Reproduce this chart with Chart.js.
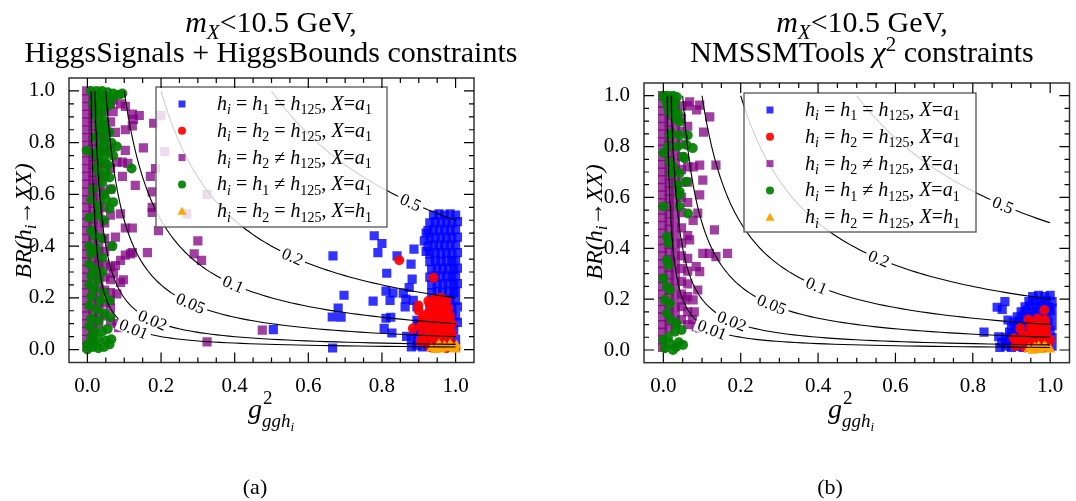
<!DOCTYPE html>
<html>
<head>
<meta charset="utf-8">
<script src="https://cdn.jsdelivr.net/npm/chart.js@4.4.1/dist/chart.umd.min.js"></script>
<style>
  body { margin: 0; background: #fff; width: 1076px; height: 501px; overflow: hidden; position: relative; }
  .box { position: absolute; top: 0; height: 501px; }
</style>
</head>
<body>
<div class="box" style="left:0;width:540px"><canvas id="chartA"></canvas></div>
<div class="box" style="left:540px;width:536px"><canvas id="chartB"></canvas></div>
<script>
// contour levels of BR * g^2 and where their labels sit (x value)
const levels = [0.5, 0.2, 0.1, 0.05, 0.02, 0.01];
const levelLabels = ['0.5', '0.2', '0.1', '0.05', '0.02', '0.01'];
const levelLabelX = [0.878, 0.557, 0.396, 0.28, 0.177, 0.126];

const tickValues = [0, 0.2, 0.4, 0.6, 0.8, 1.0];
const tickLabels = ['0.0', '0.2', '0.4', '0.6', '0.8', '1.0'];

// ---- panel (a): HiggsSignals + HiggsBounds ----
const blueA = [
  [0.505,0.077],[0.666,0.006],[0.665,0.126],[0.689,0.125],[0.681,0.16],[0.697,0.21],[0.667,0.362],
  [0.776,0.187],[0.779,0.44],[0.789,0.375],[0.80,0.41],[0.811,0.226],[0.83,0.219],[0.822,0.19],[0.813,0.295],
  [0.811,0.121],[0.824,0.125],[0.806,0.082],[0.827,0.064],[0.841,0.362],[0.887,0.388],[0.879,0.33],
  [0.882,0.272],[0.874,0.24],[0.858,0.218],[0.865,0.195],[0.885,0.19],[0.895,0.165],[0.863,0.165],
  [0.895,0.113],[0.867,0.051],[0.92,0.45],[0.915,0.42],[0.92,0.38],
  [0.94,0.52],[0.955,0.525],[0.97,0.52],[0.985,0.525],[1.0,0.52],
  [0.93,0.49],[0.945,0.495],[0.96,0.49],[0.975,0.495],[0.99,0.49],[1.005,0.495],
  [0.925,0.46],[0.94,0.465],[0.955,0.46],[0.97,0.465],[0.985,0.46],[1.0,0.465],
  [0.93,0.43],[0.945,0.435],[0.96,0.43],[0.975,0.435],[0.99,0.43],[1.005,0.435],
  [0.925,0.40],[0.94,0.405],[0.955,0.40],[0.97,0.405],[0.985,0.40],[1.0,0.405],
  [0.93,0.37],[0.945,0.375],[0.96,0.37],[0.975,0.375],[0.99,0.37],[1.005,0.375],
  [0.93,0.34],[0.945,0.345],[0.96,0.34],[0.975,0.345],[0.99,0.34],[1.0,0.345],
  [0.935,0.31],[0.95,0.315],[0.965,0.31],[0.98,0.315],[0.995,0.31],[1.005,0.315],
  [0.93,0.28],[0.945,0.285],[0.96,0.28],[0.975,0.285],[0.99,0.28],[1.0,0.285],
  [0.935,0.25],[0.95,0.255],[0.965,0.25],[0.98,0.255],[0.995,0.25],[1.005,0.255],
  [0.935,0.22],[0.95,0.225],[0.965,0.22],[0.98,0.225],[0.995,0.22],[1.0,0.225],
  [0.94,0.19],[0.955,0.195],[0.97,0.19],[0.985,0.195],[1.0,0.19],
  [0.93,0.16],[0.945,0.165],[0.96,0.16],[0.975,0.165],[0.99,0.16],[1.005,0.165],
  [0.915,0.13],[0.93,0.135],[0.945,0.13],[0.96,0.135],[0.975,0.13],[0.99,0.135],[1.0,0.13],
  [0.90,0.10],[0.915,0.105],[0.93,0.10],[0.945,0.105],[0.96,0.10],[0.975,0.105],[0.99,0.10],[1.005,0.105],
  [0.89,0.07],[0.905,0.075],[0.92,0.07],[0.935,0.075],[0.95,0.07],[0.965,0.075],[0.98,0.07],[0.995,0.075],
  [0.88,0.04],[0.895,0.045],[0.91,0.04],[0.925,0.045],[0.94,0.04],[0.955,0.045],[0.97,0.04],[0.985,0.045],[1.0,0.04],
  [0.88,0.01],[0.895,0.015],[0.91,0.01],[0.925,0.015],[0.94,0.01],[0.955,0.015],[0.97,0.01],[0.985,0.015],[1.0,0.01]
];
const redA = [
  [0.847,0.345],[0.94,0.278],[0.899,0.17],[0.926,0.188],[0.92,0.129],[0.884,0.081],
  [0.96,0.2],[0.945,0.195],[0.975,0.19],[0.93,0.175],[0.95,0.17],[0.965,0.165],[0.98,0.16],
  [0.94,0.15],[0.955,0.145],[0.97,0.14],[0.925,0.14],[0.985,0.13],[0.91,0.12],[0.935,0.125],
  [0.95,0.12],[0.965,0.115],[0.98,0.11],[0.92,0.105],[0.94,0.1],[0.955,0.095],[0.97,0.09],
  [0.905,0.09],[0.985,0.085],[0.925,0.08],[0.945,0.075],[0.96,0.07],[0.975,0.065],[0.91,0.06],
  [0.93,0.055],[0.95,0.05],[0.965,0.045],[0.98,0.04],[0.92,0.035],[0.94,0.03],[0.955,0.025],
  [0.97,0.02],[0.99,0.02],[0.905,0.03],[0.93,0.01],[0.945,0.005],[0.96,0.01],[0.975,0.005],
  [0.99,0.06],[0.99,0.1],[0.9,0.15]
];
const purpleA = [
  [-0.002,0.01],[-0.002,0.04],[-0.002,0.07],[-0.002,0.10],[-0.002,0.13],[-0.002,0.16],[-0.002,0.19],
  [-0.002,0.22],[-0.002,0.25],[-0.002,0.28],[-0.002,0.31],[-0.002,0.34],[-0.002,0.37],[-0.002,0.40],
  [-0.002,0.43],[-0.002,0.46],[-0.002,0.49],[-0.002,0.52],[-0.002,0.55],[-0.002,0.58],[-0.002,0.61],
  [-0.002,0.64],[-0.002,0.67],[-0.002,0.70],[-0.002,0.73],[-0.002,0.76],[-0.002,0.79],[-0.002,0.82],
  [-0.002,0.85],[-0.002,0.88],[-0.002,0.91],[-0.002,0.94],[-0.002,0.97],[-0.002,1.0],
  [0.015,0.025],[0.015,0.055],[0.015,0.085],[0.015,0.115],[0.015,0.145],[0.015,0.175],[0.015,0.205],
  [0.015,0.235],[0.015,0.265],[0.015,0.295],[0.015,0.325],[0.015,0.355],[0.015,0.385],[0.015,0.415],
  [0.015,0.445],[0.015,0.475],[0.015,0.505],[0.015,0.535],[0.015,0.565],[0.015,0.595],[0.015,0.625],
  [0.015,0.655],[0.015,0.685],[0.015,0.715],[0.015,0.745],[0.015,0.775],[0.015,0.805],[0.015,0.835],
  [0.015,0.865],[0.015,0.895],[0.015,0.925],[0.015,0.955],[0.015,0.985],
  [0.031,0.10],[0.031,0.135],[0.031,0.17],[0.031,0.205],[0.031,0.24],[0.031,0.275],[0.031,0.31],
  [0.031,0.345],[0.031,0.38],[0.031,0.415],[0.031,0.45],[0.031,0.485],[0.031,0.52],[0.031,0.555],
  [0.031,0.59],[0.031,0.625],[0.031,0.66],[0.031,0.695],[0.031,0.73],[0.031,0.765],[0.031,0.80],
  [0.031,0.835],[0.031,0.87],[0.031,0.905],[0.031,0.94],[0.031,0.975],
  [0.047,0.13],[0.047,0.18],[0.047,0.23],[0.047,0.28],[0.047,0.33],[0.047,0.38],[0.047,0.43],
  [0.047,0.49],[0.047,0.55],[0.047,0.61],[0.047,0.67],[0.047,0.72],[0.047,0.77],[0.047,0.82],
  [0.047,0.87],[0.047,0.92],[0.047,0.97],
  [0.063,0.11],[0.063,0.16],[0.063,0.22],[0.063,0.27],[0.063,0.32],[0.063,0.40],[0.063,0.52],
  [0.063,0.62],[0.063,0.70],[0.063,0.78],[0.063,0.88],[0.063,0.95],
  [0.085,0.085],[0.08,0.10],[0.062,0.19],[0.08,0.215],[0.09,0.26],[0.071,0.295],[0.098,0.27],
  [0.076,0.325],[0.09,0.345],[0.103,0.365],[0.122,0.375],[0.163,0.375],[0.117,0.37],[0.076,0.435],
  [0.103,0.47],[0.122,0.47],[0.193,0.46],[0.09,0.525],[0.176,0.53],[0.176,0.55],[0.176,0.61],
  [0.13,0.635],[0.095,0.67],[0.171,0.67],[0.185,0.70],[0.11,0.72],[0.08,0.725],[0.095,0.725],
  [0.152,0.78],[0.103,0.77],[0.076,0.84],[0.103,0.85],[0.122,0.865],[0.18,0.875],[0.125,0.89],
  [0.141,0.905],[0.122,0.91],[0.07,0.92],[0.103,0.94],[0.09,0.95],[0.07,0.965],[0.2,0.905],
  [0.21,0.765],[0.325,0.6],[0.27,0.525],[0.30,0.42],[0.31,0.345],[0.29,0.37],[0.325,0.03],[0.475,0.075]
];
const greenA = [
  [0.01,1.0],[0.025,1.0],[0.04,1.0],[0.055,0.995],[0.07,0.99],[0.085,0.985],[0.095,0.99],
  [0.02,0.98],[0.035,0.975],[0.05,0.975],[0.065,0.97],[0.015,0.955],[0.03,0.95],[0.045,0.95],
  [0.06,0.945],[0.02,0.93],[0.04,0.92],[0.025,0.90],[0.045,0.885],[0.03,0.865],[0.05,0.855],
  [0.06,0.84],[0.035,0.84],[0.02,0.82],[0.045,0.81],[0.065,0.80],[0.04,0.79],[0.08,0.785],
  [0.03,0.77],[0.055,0.765],[-0.002,0.77],[0.02,0.755],[0.045,0.745],[0.07,0.75],[0.035,0.725],
  [0.055,0.715],[0.025,0.70],[0.05,0.69],[0.12,0.70],[0.035,0.675],[0.06,0.665],[0.04,0.645],
  [0.065,0.62],[0.015,0.62],[0.045,0.60],[0.01,0.58],[0.05,0.58],[0.07,0.57],[0.03,0.555],
  [0.06,0.545],[0.005,0.51],[0.025,0.52],[0.045,0.50],[0.01,0.46],[0.02,0.44],[0.04,0.43],
  [0.068,0.40],[0.005,0.40],[0.025,0.39],[0.01,0.37],[0.04,0.355],[0.005,0.33],[0.02,0.31],
  [0.04,0.30],[0.01,0.285],[0.03,0.27],[0.005,0.25],[0.02,0.235],[0.045,0.22],[0.01,0.205],
  [0.035,0.19],[0.06,0.19],[0.062,0.125],[0.005,0.17],[0.025,0.155],[0.045,0.14],[0.01,0.12],
  [0.03,0.11],[0.005,0.09],[0.02,0.07],[0.04,0.07],[0.055,0.08],[0.01,0.05],[0.03,0.04],
  [0.05,0.035],[0.065,0.04],[0.0,0.02],[0.015,0.01],[0.03,0.005],[0.045,0.01],[0.06,0.02],
  [0.0,0.0],[0.02,0.025]
];
const orangeA = [
  [0.935,0.005],[0.95,0.01],[0.96,0.0],[0.97,0.015],[0.98,0.005],[0.99,0.01],[1.0,0.0],
  [0.955,0.02],[0.985,0.02],[0.945,-0.002],[1.003,0.015]
];

// ---- panel (b): NMSSMTools chi^2 ----
const blueB = [
  [0.863,0.168],[0.883,0.19],[0.876,0.16],[0.829,0.07],[0.867,0.052],[0.891,0.118],
  [0.955,0.21],[0.97,0.215],[0.985,0.21],[1.0,0.215],
  [0.945,0.19],[0.96,0.195],[0.975,0.19],[0.99,0.195],[1.005,0.19],
  [0.935,0.17],[0.95,0.175],[0.965,0.17],[0.98,0.175],[0.995,0.17],[1.005,0.165],
  [0.925,0.15],[0.94,0.155],[0.955,0.15],[0.97,0.155],[0.985,0.15],[1.0,0.155],
  [0.915,0.13],[0.93,0.135],[0.945,0.13],[0.96,0.135],[0.975,0.13],[0.99,0.135],[1.005,0.13],
  [0.905,0.11],[0.92,0.115],[0.935,0.11],[0.95,0.115],[0.965,0.11],[0.98,0.115],[0.995,0.11],
  [0.90,0.09],[0.915,0.095],[0.93,0.09],[0.945,0.095],[0.96,0.09],[0.975,0.095],[0.99,0.09],[1.005,0.095],
  [0.895,0.07],[0.91,0.075],[0.925,0.07],[0.94,0.075],[0.955,0.07],[0.97,0.075],[0.985,0.07],[1.0,0.075],
  [0.885,0.05],[0.90,0.055],[0.915,0.05],[0.93,0.055],[0.945,0.05],[0.96,0.055],[0.975,0.05],[0.99,0.055],[1.005,0.05],
  [0.875,0.03],[0.89,0.035],[0.905,0.03],[0.92,0.035],[0.935,0.03],[0.95,0.035],[0.965,0.03],[0.98,0.035],[0.995,0.03],
  [0.87,0.01],[0.885,0.015],[0.90,0.01],[0.915,0.015],[0.93,0.01],[0.945,0.015],[0.96,0.01],[0.975,0.015],[0.99,0.01],[1.005,0.015]
];
const redB = [
  [0.985,0.157],[0.944,0.12],[0.968,0.124],[0.987,0.118],[0.923,0.085],[0.957,0.079],[0.906,0.046],
  [0.918,0.039],[0.93,0.06],[0.95,0.065],[0.97,0.07],[0.99,0.065],[0.94,0.045],[0.96,0.05],
  [0.98,0.045],[0.925,0.025],[0.945,0.03],[0.965,0.03],[0.985,0.025],[1.0,0.04],[0.935,0.01],
  [0.955,0.012],[0.975,0.01],[0.995,0.012],[0.91,0.015],[0.96,0.1],[0.98,0.095],[0.95,0.09],[0.99,0.09]
];
const purpleB = [
  [-0.002,0.01],[-0.002,0.04],[-0.002,0.07],[-0.002,0.10],[-0.002,0.13],[-0.002,0.16],[-0.002,0.19],
  [-0.002,0.22],[-0.002,0.25],[-0.002,0.28],[-0.002,0.31],[-0.002,0.34],[-0.002,0.37],[-0.002,0.40],
  [-0.002,0.43],[-0.002,0.46],[-0.002,0.49],[-0.002,0.52],[-0.002,0.55],[-0.002,0.58],[-0.002,0.61],
  [-0.002,0.64],[-0.002,0.67],[-0.002,0.70],[-0.002,0.73],[-0.002,0.76],[-0.002,0.79],[-0.002,0.82],
  [-0.002,0.85],[-0.002,0.88],[-0.002,0.91],[-0.002,0.94],[-0.002,0.97],[-0.002,1.0],
  [0.015,0.085],[0.015,0.115],[0.015,0.145],[0.015,0.175],[0.015,0.205],
  [0.015,0.235],[0.015,0.265],[0.015,0.295],[0.015,0.325],[0.015,0.355],[0.015,0.385],[0.015,0.415],
  [0.015,0.445],[0.015,0.475],[0.015,0.505],[0.015,0.535],[0.015,0.565],[0.015,0.595],[0.015,0.625],
  [0.015,0.655],[0.015,0.685],[0.015,0.715],[0.015,0.745],[0.015,0.775],[0.015,0.805],[0.015,0.835],
  [0.015,0.865],[0.015,0.895],[0.015,0.925],[0.015,0.955],[0.015,0.985],
  [0.031,0.10],[0.031,0.135],[0.031,0.17],[0.031,0.205],[0.031,0.24],[0.031,0.275],[0.031,0.31],
  [0.031,0.345],[0.031,0.38],[0.031,0.415],[0.031,0.45],[0.031,0.485],[0.031,0.52],[0.031,0.555],
  [0.031,0.59],[0.031,0.625],[0.031,0.66],[0.031,0.695],[0.031,0.73],[0.031,0.765],[0.031,0.80],
  [0.031,0.835],[0.031,0.87],[0.031,0.905],[0.031,0.94],[0.031,0.975],
  [0.047,0.12],[0.047,0.17],[0.047,0.22],[0.047,0.27],[0.047,0.32],[0.047,0.37],[0.047,0.42],
  [0.047,0.48],[0.047,0.54],[0.047,0.60],[0.047,0.66],[0.047,0.71],[0.047,0.76],[0.047,0.81],
  [0.047,0.86],[0.047,0.91],[0.047,0.96],
  [0.063,0.10],[0.063,0.15],[0.063,0.21],[0.063,0.26],[0.063,0.31],[0.063,0.36],[0.063,0.45],
  [0.063,0.58],[0.063,0.66],[0.063,0.72],[0.063,0.88],[0.063,0.96],
  [0.068,0.976],[0.094,0.963],[0.086,0.944],[0.12,0.917],[0.104,0.857],[0.136,0.727],[0.094,0.727],
  [0.078,0.72],[0.102,0.668],[0.094,0.61],[0.089,0.538],[0.077,0.51],[0.068,0.433],[0.132,0.472],
  [0.119,0.38],[0.102,0.38],[0.166,0.38],[0.136,0.367],[0.085,0.328],[0.094,0.308],[0.089,0.236],
  [0.077,0.197],[0.055,0.197],[0.08,0.15],[0.085,0.092],[0.094,0.087],[0.075,0.12]
];
const greenB = [
  [0.0,1.0],[0.012,1.0],[0.025,1.0],[0.035,0.995],[0.005,0.985],[0.02,0.98],[0.03,0.97],
  [0.01,0.96],[0.025,0.955],[0.038,0.93],[0.015,0.935],[0.03,0.91],[0.042,0.898],
  [0.017,0.845],[0.042,0.845],[0.063,0.845],[0.021,0.852],[0.012,0.80],[0.037,0.80],[0.06,0.806],
  [0.076,0.794],[0.0,0.775],[0.051,0.76],[0.055,0.754],[0.017,0.74],[0.025,0.72],[0.021,0.695],
  [0.042,0.695],[0.037,0.65],[0.06,0.662],[0.042,0.622],[0.042,0.61],[0.0,0.564],[0.042,0.564],
  [0.064,0.537],[0.009,0.446],[0.013,0.42],[0.009,0.354],[0.013,0.334],[0.0,0.282],[0.009,0.249],
  [0.017,0.236],[0.004,0.197],[0.017,0.183],[0.009,0.144],[0.021,0.118],[0.034,0.105],[0.03,0.072],
  [0.047,0.079],[0.0,0.04],[0.017,0.026],[0.034,0.013],[0.051,0.02],[0.004,0.007],[0.025,0.0],
  [0.012,0.05],[0.04,0.03]
];
const orangeB = [
  [0.945,0.005],[0.96,0.01],[0.975,0.0],[0.99,0.008],[1.0,0.002],[0.955,-0.003],[0.985,0.015],[0.97,0.015]
];

const SERIF = '"Liberation Serif", "Times New Roman", serif';
const BLUE = 'rgba(0,0,255,0.8)';
const RED = 'rgba(255,0,0,0.92)';
const PURPLE = 'rgba(128,0,128,0.75)';
const GREEN = 'rgba(0,128,0,0.92)';
const ORANGE = '#ffa500';

// rich text: parts are [text, kind], kind has 'i' italic, 'b' subscript, 'p' superscript
function partFont(kind, size) {
  const small = kind.includes('b') || kind.includes('p');
  return (kind.includes('i') ? 'italic ' : '') + Math.round(small ? size * 0.7 : size) + 'px ' + SERIF;
}
function richWidth(ctx, parts, size) {
  let w = 0;
  for (const [t, k] of parts) { ctx.font = partFont(k, size); w += ctx.measureText(t).width; }
  return w;
}
function drawRich(ctx, parts, x, y, size, align) {
  const w = richWidth(ctx, parts, size);
  let cx = align === 'center' ? x - w / 2 : x;
  ctx.textAlign = 'left';
  ctx.textBaseline = 'alphabetic';
  ctx.fillStyle = '#000';
  for (const [t, k] of parts) {
    ctx.font = partFont(k, size);
    const dy = k.includes('b') ? size * 0.22 : (k.includes('p') ? -size * 0.38 : 0);
    ctx.fillText(t, cx, y + dy);
    cx += ctx.measureText(t).width;
  }
}

function legendParts(a, rel, x) {
  return [['h','i'],['i','ib'],[' = ',''],['h','i'],[a,'b'],[' ' + rel + ' ',''],['h','i'],['125','b'],
          [', ',''],['X','i'],['=',''],[x[0],'i'],[x[1],'b']];
}
const legendItems = [
  { parts: legendParts('1', '=', ['a','1']), color: BLUE, style: 'rect' },
  { parts: legendParts('2', '=', ['a','1']), color: RED, style: 'circle' },
  { parts: legendParts('2', '\u2260', ['a','1']), color: PURPLE, style: 'rect' },
  { parts: legendParts('1', '\u2260', ['a','1']), color: GREEN, style: 'circle' },
  { parts: legendParts('2', '=', ['h','1']), color: ORANGE, style: 'triangle' }
];

function contour(c) {
  const pts = [];
  for (let k = 0; k <= 90; k++) {
    const x = c * Math.pow(1 / c, k / 90);
    pts.push({ x: x, y: c / x });
  }
  return pts;
}

function drawMarker(ctx, style, color, x, y) {
  ctx.fillStyle = color;
  ctx.beginPath();
  if (style === 'rect') ctx.rect(x - 3.5, y - 3.5, 7, 7);
  else if (style === 'circle') ctx.arc(x, y, 4, 0, Math.PI * 2);
  else { ctx.moveTo(x, y - 4.5); ctx.lineTo(x + 4.5, y + 3.5); ctx.lineTo(x - 4.5, y + 3.5); ctx.closePath(); }
  ctx.fill();
}

function buildChart(id, g, s) {
  const datasets = levels.map(c => ({
    data: contour(c), showLine: true, borderColor: '#000', borderWidth: 1.1,
    pointRadius: 0, order: 0
  }));
  const pt = (data, style, color, r, order) => ({
    data: data.map(p => ({ x: p[0], y: p[1] })), pointStyle: style, pointRadius: r,
    backgroundColor: color, borderWidth: 0, pointBorderWidth: 0, order: order
  });
  datasets.push(pt(s.orange, 'triangle', ORANGE, 6, 1));
  datasets.push(pt(s.red, 'circle', RED, 5, 2));
  datasets.push(pt(s.blue, 'rect', BLUE, 6.5, 3));
  datasets.push(pt(s.green, 'circle', GREEN, 5, 4));
  datasets.push(pt(s.purple, 'rect', PURPLE, 6.5, 5));

  const tickCb = v => {
    const i = tickValues.findIndex(t => Math.abs(t - v) < 1e-6);
    return i >= 0 ? tickLabels[i] : '';
  };
  const tickOpts = pad => ({ stepSize: 0.05, autoSkip: false, maxRotation: 0, color: '#000', padding: pad,
                             font: { family: SERIF, size: 21 }, callback: tickCb });

  const overlay = {
    id: 'overlay',
    afterDatasetsDraw(chart) {
      const ctx = chart.ctx, xs = chart.scales.x, ys = chart.scales.y, a = chart.chartArea;
      // contour labels
      levels.forEach((c, n) => {
        const lx = levelLabelX[n];
        const px = xs.getPixelForValue(lx), py = ys.getPixelForValue(c / lx);
        const qx = xs.getPixelForValue(lx + 0.01), qy = ys.getPixelForValue(c / (lx + 0.01));
        ctx.save();
        ctx.translate(px, py);
        ctx.rotate(Math.atan2(qy - py, qx - px));
        ctx.font = '17px ' + SERIF;
        const w = ctx.measureText(levelLabels[n]).width;
        ctx.fillStyle = '#fff';
        ctx.fillRect(-w / 2 - 3, -7, w + 6, 14);
        ctx.fillStyle = '#000';
        ctx.textAlign = 'center';
        ctx.textBaseline = 'middle';
        ctx.fillText(levelLabels[n], 0, 1);
        ctx.restore();
      });
      // legend
      const L = g.legend;
      ctx.save();
      ctx.fillStyle = 'rgba(255,255,255,0.82)';
      ctx.fillRect(L.l - g.left, L.t, L.r - L.l, L.b - L.t);
      ctx.strokeStyle = '#555';
      ctx.lineWidth = 1.3;
      ctx.strokeRect(L.l - g.left, L.t, L.r - L.l, L.b - L.t);
      legendItems.forEach((it, n) => {
        const cy = L.t + 17 + n * 26.8;
        drawMarker(ctx, it.style, it.color, L.l - g.left + 26, cy);
        drawRich(ctx, it.parts, L.l - g.left + 61, cy + 6, 20, 'left');
      });
      ctx.restore();
      // frame and inward ticks
      ctx.save();
      ctx.strokeStyle = '#333';
      ctx.lineWidth = 1.5;
      ctx.strokeRect(a.left, a.top, a.right - a.left, a.bottom - a.top);
      ctx.strokeStyle = '#000';
      ctx.lineWidth = 1.2;
      ctx.beginPath();
      for (let k = 0; k <= 20; k++) {
        const v = k * 0.05, len = (k % 4 === 0) ? 10 : 5;
        const px = xs.getPixelForValue(v), py = ys.getPixelForValue(v);
        ctx.moveTo(px, a.bottom); ctx.lineTo(px, a.bottom - len);
        ctx.moveTo(px, a.top); ctx.lineTo(px, a.top + len);
        ctx.moveTo(a.left, py); ctx.lineTo(a.left + len, py);
        ctx.moveTo(a.right, py); ctx.lineTo(a.right - len, py);
      }
      ctx.stroke();
      ctx.restore();
    },
    afterDraw(chart) {
      const ctx = chart.ctx;
      ctx.save();
      drawRich(ctx, [['m','i'],['X','ib'],['<10.5 GeV,','']], g.titleX - g.left, 32, 30, 'center');
      drawRich(ctx, g.title2, g.titleX - g.left, 62, 30, 'center');
      // y axis title
      ctx.save();
      ctx.translate(g.ytitle[0] - g.left, g.ytitle[1]);
      ctx.rotate(-Math.PI / 2);
      drawRich(ctx, [['BR(h','i'],['i','ib'],['\u2192XX)','i']], 0, 8, 24, 'center');
      ctx.restore();
      // x axis title g^2_{ggh_i}
      const gx = g.xtitle[0] - g.left, gy = g.xtitle[1];
      ctx.fillStyle = '#000';
      ctx.font = 'italic 28px ' + SERIF;
      const gw = ctx.measureText('g').width;
      ctx.fillText('g', gx - 22, gy);
      ctx.font = '19px ' + SERIF;
      ctx.fillText('2', gx - 22 + gw + 1, gy - 14);
      ctx.font = 'italic 19px ' + SERIF;
      ctx.fillText('ggh', gx - 22 + gw, gy + 9);
      const hw = ctx.measureText('ggh').width;
      ctx.font = 'italic 13px ' + SERIF;
      ctx.fillText('i', gx - 22 + gw + hw, gy + 13);
      // panel tag
      ctx.font = '22px ' + SERIF;
      ctx.textAlign = 'center';
      ctx.fillText(g.tag[0], g.tag[1] - g.left, g.tag[2]);
      ctx.restore();
    }
  };

  return new Chart(document.getElementById(id), {
    type: 'scatter',
    data: { datasets: datasets },
    options: {
      responsive: true, maintainAspectRatio: false, animation: false, events: [],
      layout: { padding: { left: 0, top: g.area.t, right: g.width - g.area.r, bottom: 501 - g.area.b - 40 } },
      plugins: { legend: { display: false }, tooltip: { enabled: false } },
      scales: {
        x: { type: 'linear', min: -0.05, max: 1.05, grid: { display: false }, border: { display: false },
             ticks: tickOpts(3), afterFit(sc) { sc.height = 40; } },
        y: { type: 'linear', min: -0.05, max: 1.05, grid: { display: false }, border: { display: false },
             ticks: tickOpts(6), afterFit(sc) { sc.width = g.area.l; } }
      }
    },
    plugins: [overlay]
  });
}

buildChart('chartA', {
  left: 0, width: 540, area: { l: 69, r: 474, t: 78, b: 362.5 },
  titleX: 271, title2: [['HiggsSignals + HiggsBounds constraints', '']],
  ytitle: [23, 221], xtitle: [270, 418], tag: ['(a)', 255, 494],
  legend: { l: 156, t: 87, r: 387, b: 227 }
}, { blue: blueA, red: redA, purple: purpleA, green: greenA, orange: orangeA });

buildChart('chartB', {
  left: 540, width: 536, area: { l: 104, r: 533, t: 83, b: 362.7 },
  titleX: 862, title2: [['NMSSMTools ', ''], ['\u03c7', 'i'], ['2', 'p'], [' constraints', '']],
  ytitle: [594, 222], xtitle: [850, 418], tag: ['(b)', 830, 494],
  legend: { l: 744, t: 93, r: 976, b: 232 }
}, { blue: blueB, red: redB, purple: purpleB, green: greenB, orange: orangeB });
</script>
</body>
</html>
